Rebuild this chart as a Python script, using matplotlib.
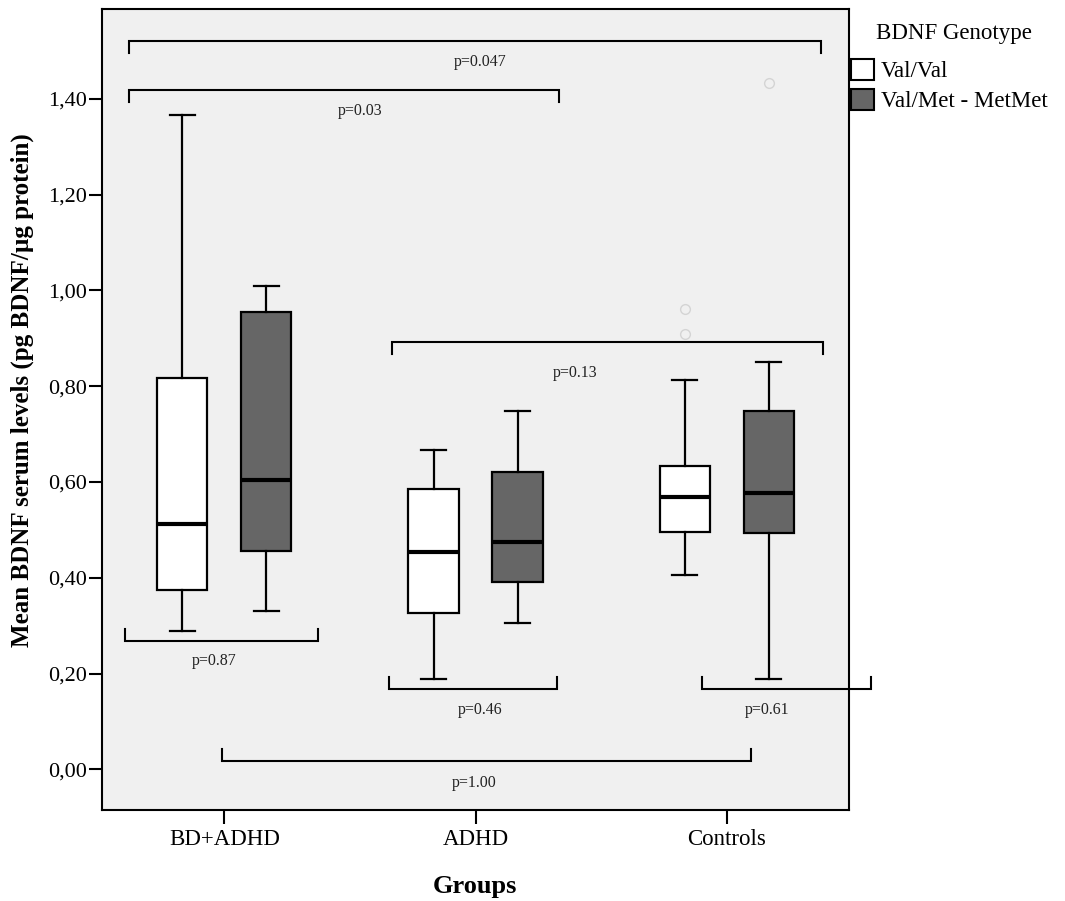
import matplotlib
matplotlib.use("Agg")
import matplotlib.pyplot as plt
from matplotlib.patches import Patch

plt.rcParams['font.family'] = ['Liberation Serif', 'DejaVu Serif']

# ---------------- data ----------------
groups = ["BD+ADHD", "ADHD", "Controls"]
genotypes = ["Val/Val", "Val/Met - MetMet"]

# five-number summaries (whislo, q1, med, q3, whishi) per group
valval_low = [0.289, 0.189, 0.406]
valval_q1 = [0.375, 0.327, 0.495]
valval_med = [0.513, 0.454, 0.568]
valval_q3 = [0.817, 0.585, 0.633]
valval_high = [1.366, 0.666, 0.813]
valval_outliers = [[], [], [0.962, 0.908]]

valmet_low = [0.330, 0.306, 0.189]
valmet_q1 = [0.456, 0.391, 0.494]
valmet_med = [0.605, 0.475, 0.576]
valmet_q3 = [0.955, 0.621, 0.748]
valmet_high = [1.010, 0.749, 0.851]
valmet_outliers = [[], [], [1.434]]

yticks = [0.0, 0.2, 0.4, 0.6, 0.8, 1.0, 1.2, 1.4]
ytick_labels = ["0,00", "0,20", "0,40", "0,60", "0,80", "1,00", "1,20", "1,40"]

p_labels = ["p=0.047", "p=0.03", "p=0.13", "p=0.87", "p=0.46", "p=0.61", "p=1.00"]

# ---------------- figure ----------------
W, H = 1065, 901
fig = plt.figure(figsize=(W / 100, H / 100), dpi=100)
ax = fig.add_axes([102.4 / W, (H - 810) / H, 746.1 / W, 800.7 / H])
ax.set_facecolor('#f0f0f0')

offset = 0.167
width = 0.2
colors = ['white', '#666666']

def make_stats(lo, q1, med, q3, hi, fl):
    return [dict(whislo=lo[i], q1=q1[i], med=med[i], q3=q3[i], whishi=hi[i], fliers=fl[i])
            for i in range(len(groups))]

series = [
    make_stats(valval_low, valval_q1, valval_med, valval_q3, valval_high, valval_outliers),
    make_stats(valmet_low, valmet_q1, valmet_med, valmet_q3, valmet_high, valmet_outliers),
]

for k, stats in enumerate(series):
    pos = [i + (-offset if k == 0 else offset) for i in range(len(groups))]
    ax.bxp(stats, positions=pos, widths=width, patch_artist=True, manage_ticks=False,
           boxprops=dict(facecolor=colors[k], edgecolor='black', linewidth=1.6),
           whiskerprops=dict(color='black', linewidth=1.6),
           capprops=dict(color='black', linewidth=1.6),
           medianprops=dict(color='black', linewidth=3.0),
           flierprops=dict(marker='o', markerfacecolor='none', markeredgecolor='#d4d4d4',
                           markersize=7, markeredgewidth=1.0, linestyle='none'))

ax.set_xlim(-0.485, 2.484)
ax.set_ylim(-0.085, 1.587)
ax.set_xticks(range(len(groups)))
ax.set_xticklabels(groups, fontsize=16.5)
ax.set_yticks(yticks)
ax.set_yticklabels(ytick_labels, fontsize=16)
ax.tick_params(axis='x', length=10, width=1.5, pad=4)
ax.tick_params(axis='y', length=9.5, width=1.5, pad=1.5)
for s in ax.spines.values():
    s.set_linewidth(1.5)

ax.set_ylabel("Mean BDNF serum levels (pg BDNF/µg protein)", fontsize=18,
              fontweight='bold', va='center')
ax.yaxis.set_label_coords((22 - 102.4) / 746.1, (810 - 390) / 800.7)
ax.set_xlabel("Groups", fontsize=19, fontweight='bold', va='center')
ax.xaxis.set_label_coords(0.4994, (810 - 887) / 800.7)

# ---------------- significance brackets ----------------
# (x0, x1, y, tick direction, label x, label y)
brackets = [
    (-0.380, 2.375, 1.520, -1, 1.017, 1.477),
    (-0.380, 1.333, 1.418, -1, 0.540, 1.374),
    (0.668, 2.383, 0.893, -1, 1.398, 0.827),
    (-0.394, 0.373, 0.268, 1, -0.040, 0.226),
    (0.655, 1.326, 0.168, 1, 1.017, 0.124),
    (1.903, 2.572, 0.168, 1, 2.160, 0.124),
    (-0.008, 2.098, 0.018, 1, 0.993, -0.029),
]
tick_h = 0.025
for (x0, x1, y, d, lx, ly), lab in zip(brackets, p_labels):
    ax.plot([x0, x0, x1, x1], [y + d * tick_h, y, y, y + d * tick_h],
            color='black', linewidth=1.5, clip_on=False, solid_joinstyle='miter')
    ax.text(lx, ly, lab, fontsize=11.5, ha='center', va='center', color='#222222')

# ---------------- legend ----------------
fig.text(954 / W, 1 - 33 / H, "BDNF Genotype", fontsize=16.5, ha='center', va='center')
handles = [Patch(facecolor=colors[0], edgecolor='black', linewidth=1.5),
           Patch(facecolor=colors[1], edgecolor='black', linewidth=1.5)]
leg = fig.legend(handles, genotypes, loc='upper left',
                 bbox_to_anchor=(849 / W, 1 - 57 / H),
                 frameon=False, fontsize=16.5,
                 handlelength=1.0, handleheight=1.0, handletextpad=0.3,
                 labelspacing=0.3, borderpad=0.1, borderaxespad=0.0)

fig.savefig("out.png", dpi=100)
